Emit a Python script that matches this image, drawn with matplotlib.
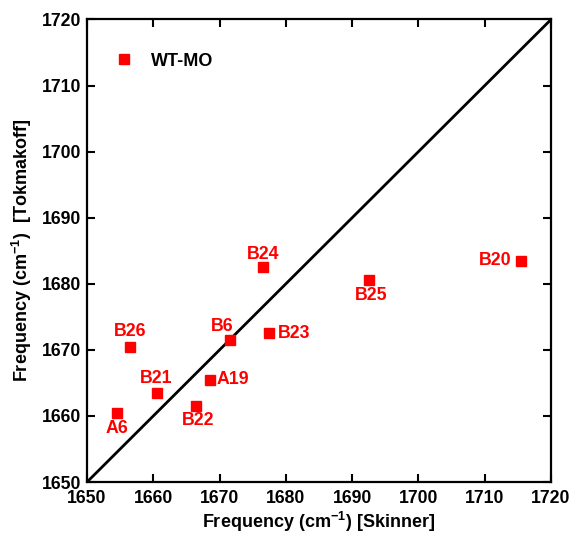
"""Skinner vs Tokmakoff amide-I frequencies for WT-MO sites."""

import matplotlib

matplotlib.use("Agg")
import matplotlib.pyplot as plt

plt.rcParams["font.family"] = ["Liberation Sans", "DejaVu Sans"]
plt.rcParams["font.weight"] = "bold"
plt.rcParams["mathtext.fontset"] = "custom"
plt.rcParams["mathtext.rm"] = "Liberation Sans:bold"
plt.rcParams["mathtext.bf"] = "Liberation Sans:bold"
plt.rcParams["mathtext.default"] = "bf"

# data
sites = ["A6", "B26", "B21", "B22", "A19", "B6", "B23", "B24", "B25", "B20"]
freq_skinner = [1654.5, 1656.5, 1660.5, 1666.5, 1668.5, 1671.5, 1677.5, 1676.5, 1692.5, 1715.5]
freq_tokmakoff = [1660.5, 1670.5, 1663.5, 1661.5, 1665.5, 1671.5, 1672.5, 1682.5, 1680.5, 1683.5]
axis_range = [1650, 1720]
ticks = [1650, 1660, 1670, 1680, 1690, 1700, 1710, 1720]

# label offsets (points) and alignment per site
label_pos = {
    "A6": ((0, -11.5), "center", "center"),
    "B26": ((0, 11), "center", "center"),
    "B21": ((0, 10), "center", "center"),
    "B22": ((1, -10.5), "center", "center"),
    "A19": ((5, 0), "left", "center"),
    "B6": ((-5.5, 10), "center", "center"),
    "B23": ((6, 0), "left", "center"),
    "B24": ((0, 9.5), "center", "center"),
    "B25": ((2, -11), "center", "center"),
    "B20": ((-7, 0), "right", "center"),
}

fig = plt.figure(figsize=(5.74, 5.35), dpi=100)
ax = fig.add_axes([0.1516, 0.099, 0.8084, 0.8646])

ax.plot(axis_range, axis_range, color="black", lw=2.0, zorder=1)
ax.plot(freq_skinner, freq_tokmakoff, ls="none", marker="s", ms=7, color="#ff0000",
        mec="#ff0000", label="WT-MO", zorder=3)

for name, x, y in zip(sites, freq_skinner, freq_tokmakoff):
    offset, ha, va = label_pos[name]
    ax.annotate(name, (x, y), xytext=offset, textcoords="offset points",
                ha=ha, va=va, color="#ff0000", fontsize=12.8, fontweight="bold")

ax.set_xlim(axis_range)
ax.set_ylim(axis_range)
ax.set_xticks(ticks)
ax.set_yticks(ticks)
ax.tick_params(direction="in", length=6, width=1.5, top=True, right=True,
               labelsize=12.7)
ax.tick_params(axis="x", pad=6)
ax.tick_params(axis="y", pad=4)
for spine in ax.spines.values():
    spine.set_linewidth(1.6)

ax.set_xlabel(r"Frequency (cm$^{-1}$) [Skinner]", fontsize=13, fontweight="bold", labelpad=2)
ax.set_ylabel(r"Frequency (cm$^{-1}$)  [Tokmakoff]", fontsize=13, fontweight="bold", labelpad=6)

leg = ax.legend(loc="upper left", bbox_to_anchor=(0.057, 0.928), frameon=False, fontsize=13,
                handletextpad=0.9, borderaxespad=0, borderpad=0, numpoints=1,
                handlelength=1.2)

fig.savefig("out.png", dpi=100)
